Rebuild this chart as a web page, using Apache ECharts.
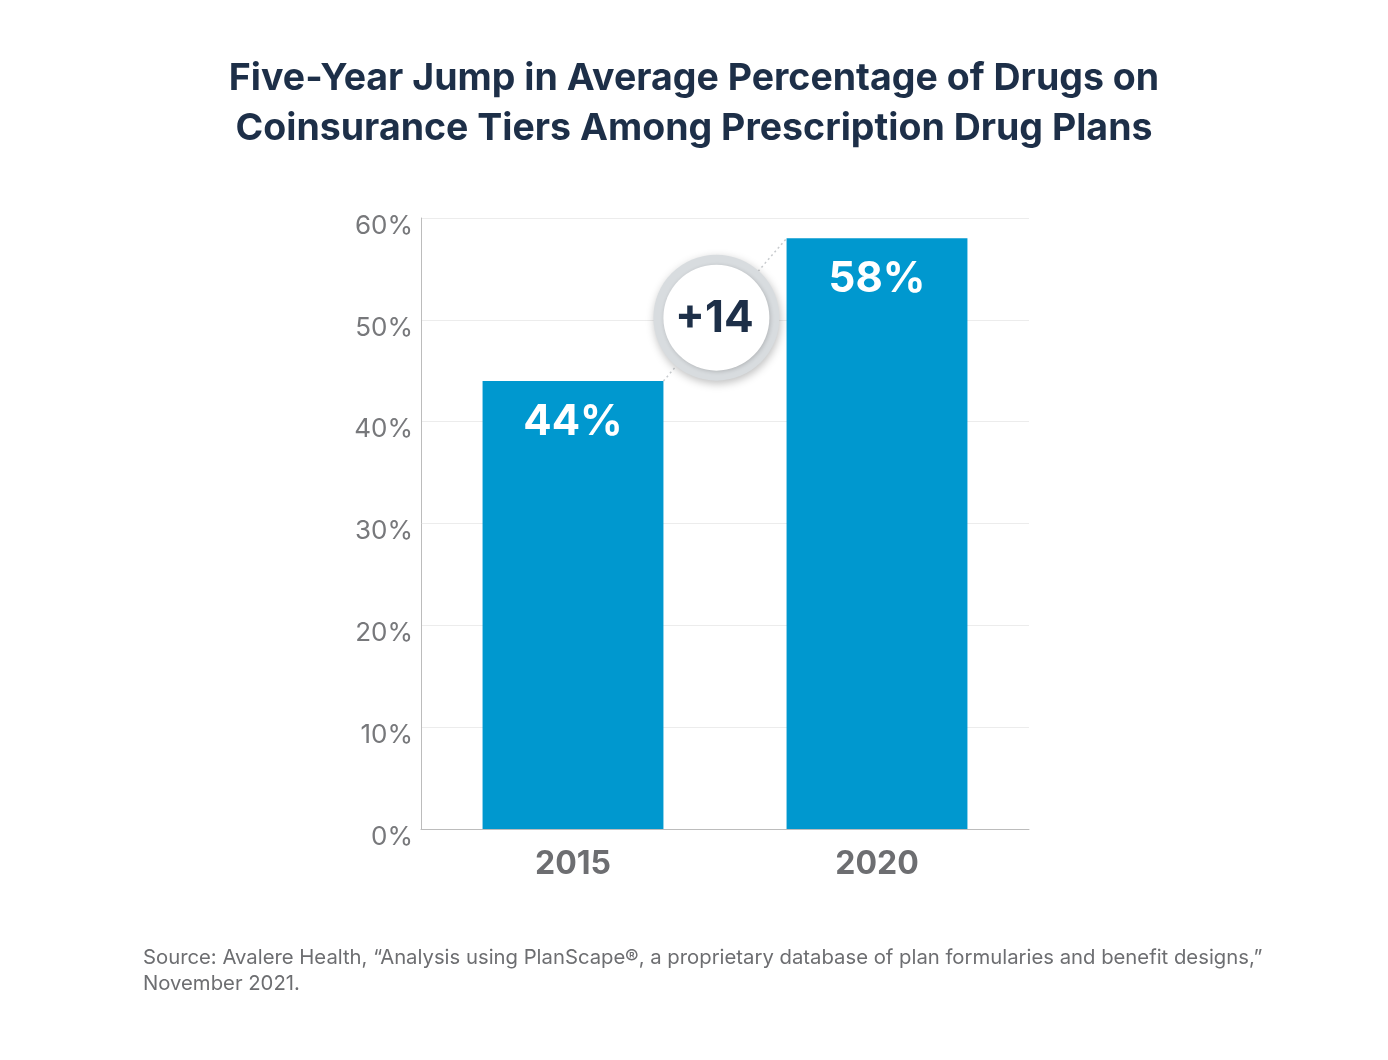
<!DOCTYPE html>
<html>
<head>
<meta charset="utf-8">
<style>
html,body{margin:0;padding:0;background:#fff;}
#c{width:1388px;height:1060px;}
</style>
<script src="https://cdn.jsdelivr.net/npm/echarts@6/dist/echarts.min.js"></script>
</head>
<body>
<div id="c"></div>
<script>
const titleLines = ['Five-Year Jump in Average Percentage of Drugs on', 'Coinsurance Tiers Among Prescription Drug Plans'];
const years = ['2015', '2020'];
const values = [44, 58];
const changeLabel = '+14';
const yTicks = [0, 10, 20, 30, 40, 50, 60];
const sourceText = 'Source: Avalere Health, \u201cAnalysis using PlanScape\u00ae, a proprietary database of plan formularies and benefit designs,\u201d\nNovember 2021.';

const BAR_FRAC = 0.595;
const chart = echarts.init(document.getElementById('c'));
chart.setOption({
  backgroundColor: '#ffffff',
  animation: false,
  title: [{
    text: titleLines.join('\n'),
    left: 'center',
    top: 49,
    textStyle: {fontFamily: 'Inter', fontWeight: 700, fontSize: 37.5, color: '#1d2f48', lineHeight: 50}
  }, {
    text: sourceText,
    left: 138,
    top: 940,
    textStyle: {fontFamily: 'Inter', fontWeight: 400, fontSize: 20.3, color: '#6d6e71', lineHeight: 26}
  }],
  grid: {left: 421, right: 359, top: 218, bottom: 231},
  xAxis: {
    type: 'category',
    data: years,
    axisLine: {lineStyle: {color: '#bcbcbc', width: 1}},
    axisTick: {show: false},
    axisLabel: {fontFamily: 'Inter', fontWeight: 700, fontSize: 32, color: '#6d6e71', margin: 19}
  },
  yAxis: {
    type: 'value',
    min: yTicks[0],
    max: yTicks[yTicks.length - 1],
    interval: 10,
    axisLine: {show: true, lineStyle: {color: '#bcbcbc', width: 1}},
    axisTick: {show: false},
    splitLine: {lineStyle: {color: '#ececec', width: 1}},
    axisLabel: {fontFamily: 'Inter', fontSize: 26, color: '#77787b', margin: 8, verticalAlign: 'top', lineHeight: 16, formatter: v => v + '%'}
  },
  series: [{
    type: 'bar',
    data: values,
    barWidth: (BAR_FRAC * 100) + '%',
    itemStyle: {color: '#0098cf'},
    label: {
      show: true, position: 'insideTop', distance: 20,
      formatter: p => p.value + '%',
      fontFamily: 'Inter', fontWeight: 700, fontSize: 42, color: '#ffffff'
    },
    z: 2
  }, {
    type: 'custom',
    data: [[0, values[0], 1, values[1]]],
    encode: {x: [0, 2], y: [1, 3]},
    z: 5,
    renderItem: function (params, api) {
      const p1 = api.coord([api.value(0), api.value(1)]);
      const p2 = api.coord([api.value(2), api.value(3)]);
      const band = api.size([1, 0])[0];
      const half = band * BAR_FRAC / 2;
      const a = [p1[0] + half, p1[1]];
      const b = [p2[0] - half, p2[1]];
      const t = 0.43;
      const cx = a[0] + (b[0] - a[0]) * t;
      const cy = a[1] + (b[1] - a[1]) * t;
      return {
        type: 'group',
        children: [{
          type: 'line',
          shape: {x1: a[0], y1: a[1], x2: b[0], y2: b[1]},
          style: {stroke: '#c8cbce', lineWidth: 1.5, lineDash: [2, 3]}
        }, {
          type: 'circle',
          shape: {cx: cx, cy: cy - 2, r: 63},
          style: {fill: '#d8dcdf', shadowBlur: 8, shadowColor: 'rgba(0,0,0,0.25)', shadowOffsetX: 1, shadowOffsetY: 3}
        }, {
          type: 'circle',
          shape: {cx: cx, cy: cy - 2, r: 53},
          style: {fill: '#ffffff', shadowBlur: 4, shadowColor: 'rgba(0,0,0,0.18)', shadowOffsetX: 1, shadowOffsetY: 1}
        }, {
          type: 'text',
          x: cx - 2, y: cy - 1,
          style: {text: changeLabel, align: 'center', verticalAlign: 'middle', fontFamily: 'Inter', fontWeight: 700, fontSize: 44, fill: '#1d2f48'}
        }]
      };
    }
  }]
});
</script>
</body>
</html>
